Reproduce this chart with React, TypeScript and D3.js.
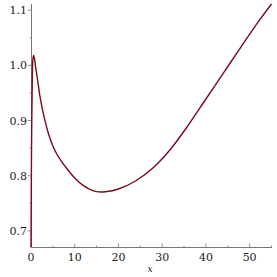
import React, { useRef, useEffect } from 'react';
import * as d3 from 'd3';

// values
const xs = [0, 0.15, 0.3, 0.45, 0.6, 0.8, 1.0, 1.5, 2, 3, 4, 5, 6, 7, 8, 10, 12, 14, 15.5, 17, 20, 24, 28, 32, 36, 40, 44, 48, 52, 55];
const ys = [0.67, 0.88, 0.98, 1.012, 1.018, 1.012, 1.0, 0.974, 0.946, 0.906, 0.876, 0.854, 0.838, 0.8255, 0.815, 0.796, 0.782, 0.7735, 0.7708, 0.771, 0.776, 0.791, 0.815, 0.849, 0.892, 0.939, 0.986, 1.033, 1.079, 1.111];
const xTicks = [0, 10, 20, 30, 40, 50];
const yTicks = [0.7, 0.8, 0.9, 1.0, 1.1];

const W = 277, H = 277;
const FONT = "DejaVu Serif, serif";

const App = () => {
  const svgRef = useRef(null);

  useEffect(() => {
    const svg = d3.select(svgRef.current);
    svg.selectAll("*").remove();

    const x = d3.scaleLinear().domain([0, 55]).range([31, 271.5]);
    const y = d3.scaleLinear().domain([0.671, 1.111]).range([247, 4]);

    const g = svg.append("g");

    // curve (clipped to the plot box)
    svg.append("defs").append("clipPath").attr("id", "clip")
      .append("rect").attr("x", 28).attr("y", 0).attr("width", 249).attr("height", 247);

    const line = d3.line().x(d => x(d[0])).y(d => y(d[1])).curve(d3.curveCatmullRom.alpha(0.5));

    const axisColor = "#777";

    // x axis
    g.append("line").attr("x1", 31).attr("x2", 272).attr("y1", 247.5).attr("y2", 247.5)
      .attr("stroke", axisColor).attr("stroke-width", 1);
    d3.range(0, 56, 5).forEach(t => {
      g.append("line").attr("x1", x(t)).attr("x2", x(t)).attr("y1", 247.5).attr("y2", 247.5 - (t % 10 === 0 ? 4 : 2))
        .attr("stroke", axisColor).attr("stroke-width", 0.8);
    });
    g.selectAll(".xl").data(xTicks).join("text")
      .attr("x", d => x(d)).attr("y", 261)
      .attr("text-anchor", "middle")
      .style("font-family", FONT)
      .attr("font-size", 11)
      .attr("fill", "#222")
      .text(d => d);
    g.append("text").attr("x", 150).attr("y", 272).attr("text-anchor", "middle")
      .style("font-family", FONT)
      .attr("font-size", 9).attr("font-style", "italic").attr("fill", "#222")
      .text("x");

    // y axis
    g.append("line").attr("x1", 31.5).attr("x2", 31.5).attr("y1", 4).attr("y2", 248)
      .attr("stroke", axisColor).attr("stroke-width", 1);
    d3.range(0.7, 1.11, 0.05).forEach((t, i) => {
      g.append("line").attr("x1", 31.5).attr("x2", 31.5 - (i % 2 === 0 ? 4 : 2)).attr("y1", y(t)).attr("y2", y(t))
        .attr("stroke", axisColor).attr("stroke-width", 0.8);
    });
    g.selectAll(".yl").data(yTicks).join("text")
      .attr("x", 27).attr("y", d => y(d) + 4)
      .attr("text-anchor", "end")
      .style("font-family", FONT)
      .attr("font-size", 11)
      .attr("fill", "#222")
      .text(d => d3.format(".1f")(d));

    g.append("path")
      .datum(xs.map((v, i) => [v, ys[i]]))
      .attr("clip-path", "url(#clip)")
      .attr("fill", "none")
      .attr("stroke", "#7a0a1c")
      .attr("stroke-width", 1.4)
      .attr("d", line);
  }, []);

  return (
    <svg ref={svgRef} width={W} height={H}
      style={{ position: "absolute", left: 0, top: 0, background: "#fff" }} />
  );
};

export default App;
